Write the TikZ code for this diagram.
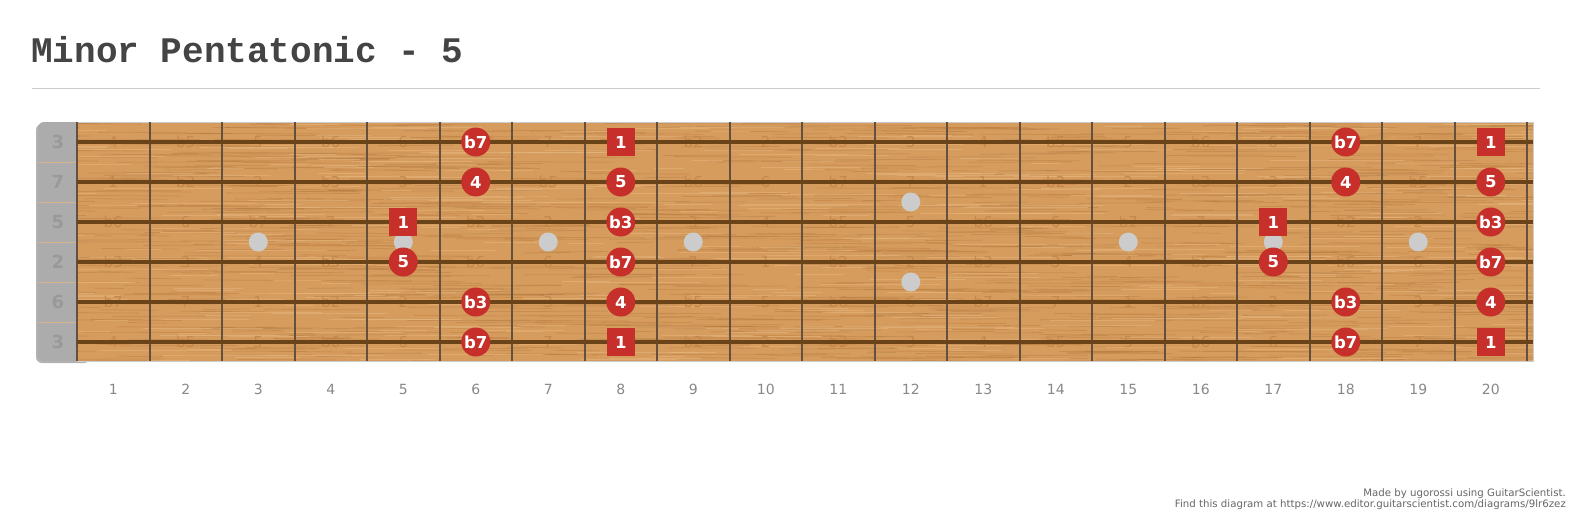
\documentclass[tikz,border=0pt]{standalone}
\usepackage{fontspec}
\setmainfont{DejaVu Sans}
\newfontfamily\mono{Liberation Mono}
\usetikzlibrary{positioning}
\definecolor{cmadera}{HTML}{D69C5E}
\definecolor{cvetaosc}{HTML}{BF8142}
\definecolor{cvetaclr}{HTML}{E6B780}
\definecolor{ccuerda}{HTML}{6B4318}
\definecolor{ctraste}{HTML}{64503E}
\definecolor{croja}{HTML}{C62F2A}
\definecolor{cceja}{HTML}{ACACAC}
\definecolor{cpunto}{HTML}{CCCCCC}
\definecolor{cgris}{HTML}{444444}
\definecolor{cnum}{HTML}{888888}
\definecolor{clinea}{HTML}{CCCCCC}
\newcommand\intervalo[1]{\ifcase#1 1\or b2\or 2\or b3\or 3\or 4\or b5\or 5\or b6\or 6\or b7\or 7\fi}
\tikzset{
  nota/.style={circle, fill=croja, minimum size=29pt, inner sep=0pt, text=white,
               font=\bfseries\fontsize{16.5}{16.5}\selectfont},
  raiz/.style={rectangle, fill=croja, minimum size=28pt, inner sep=0pt, text=white,
               font=\bfseries\fontsize{16.5}{16.5}\selectfont},
  fondo/.style={text=cvetaosc!75!cmadera, font=\fontsize{15}{15}\selectfont, inner sep=0pt},
  vacia/.style={text=black!40, font=\bfseries\fontsize{18}{18}\selectfont, inner sep=0pt},
  numtraste/.style={text=cnum, font=\fontsize{14}{14}\selectfont, inner sep=0pt},
  cuerda/.style={draw=ccuerda, line width=3.5pt},
  traste/.style={draw=ctraste, line width=2pt},
  punto/.style={circle, fill=cpunto, minimum size=19pt, inner sep=0pt},
  veta/.style={line width=0.8pt, opacity=0.55},
  pie/.style={anchor=base east, inner sep=0pt, text=black!60, font=\fontsize{10.2}{10.2}\selectfont},
}

\begin{document}
\begin{tikzpicture}[x=1pt, y=-1pt]
  \useasboundingbox[fill=white] (0,0) rectangle (1573,519);

  \node[anchor=base west, inner sep=0pt, text=cgris, font=\mono\bfseries\fontsize{36}{36}\selectfont]
    (titulo) at (31,63) {Minor Pentatonic - 5};
  \draw[clinea, line width=1pt] (32,88) -- (1540,88);

  % cejuela y diapason
  \fill[black!30, rounded corners=6pt] (36,124) rectangle (90,363);
  \fill[cceja, rounded corners=6pt] (38,122) rectangle (90,361);
  \fill[cmadera] (77,122) rectangle (1533,361);
  \begin{scope}
    \clip (77,122) rectangle (1533,361);
    \pgfmathsetseed{17}
    \foreach \i in {1,...,650}{
      \pgfmathsetmacro\gx{20+rnd*1520}
      \pgfmathsetmacro\gy{122+rnd*240}
      \pgfmathsetmacro\gl{25+rnd*110}
      \draw[veta, cvetaosc] (\gx,\gy) -- ++(\gl,0.6);
    }
    \foreach \i in {1,...,450}{
      \pgfmathsetmacro\gx{20+rnd*1520}
      \pgfmathsetmacro\gy{122+rnd*240}
      \pgfmathsetmacro\gl{25+rnd*110}
      \draw[veta, cvetaosc!80!black, opacity=0.25] (\gx,\gy) -- ++(\gl,-0.5);
    }
    \foreach \i in {1,...,450}{
      \pgfmathsetmacro\gx{20+rnd*1520}
      \pgfmathsetmacro\gy{122+rnd*240}
      \pgfmathsetmacro\gl{25+rnd*110}
      \draw[veta, cvetaclr] (\gx,\gy) -- ++(\gl,0);
    }
  \end{scope}
  \draw[black!20, line width=0.8pt] (77,122) -- (1533,122) -- (1533,361) -- (77,361);
  \foreach \y in {162,202,242,282,322}
    \draw[cvetaclr!70!cceja, line width=0.6pt] (38,\y) -- (77,\y);

  % intervalos de fondo
  \foreach \s/\o in {1/4,2/11,3/7,4/2,5/9,6/4}{
    \foreach \f in {1,...,20}{
      \pgfmathtruncatemacro\k{mod(\o+\f,12)}
      \node[fondo] (iv-\s-\f) at ({77+72.5*(\f-0.5)},{102+40*\s}) {\intervalo{\k}};
    }
  }

  % trastes y cuerdas
  \foreach \f in {0,...,20}
    \draw[traste] ({77+72.5*\f},122) -- ({77+72.5*\f},361);
  \foreach \s in {1,...,6}
    \draw[cuerda] (77,{102+40*\s}) -- (1533,{102+40*\s});

  % cuerdas al aire
  \foreach \s/\o in {1/3,2/7,3/5,4/2,5/6,6/3}
    \node[vacia] (aire-\s) at (58,{102+40*\s}) {\o};

  % marcas
  \foreach \f in {3,5,7,9,15,17,19}
    \node[punto] (p-\f) at ({77+72.5*(\f-0.5)},242) {};
  \node[punto] (p-12a) at ({77+72.5*11.5},202) {};
  \node[punto] (p-12b) at ({77+72.5*11.5},282) {};

  % notas de la escala
  \foreach \s/\f/\t in {1/6/b7, 2/6/4, 5/6/b3, 6/6/b7, 2/8/5, 3/8/b3, 4/8/b7, 5/8/4, 4/5/5,
                        1/18/b7, 2/18/4, 5/18/b3, 6/18/b7, 2/20/5, 3/20/b3, 4/20/b7, 5/20/4, 4/17/5}
    \node[nota] (n-\s-\f) at ({77+72.5*(\f-0.5)},{102+40*\s}) {\t};
  \foreach \s/\f in {1/8, 6/8, 3/5, 3/17, 1/20, 6/20}
    \node[raiz] (n-\s-\f) at ({77+72.5*(\f-0.5)},{102+40*\s}) {1};

  % numeros de traste
  \foreach \f in {1,...,20}
    \node[numtraste] (t-\f) at ({77+72.5*(\f-0.5)},389) {\f};

  \node[pie] (firma) at (1566,496) {Made by ugorossi using GuitarScientist.};
  \node[pie] (enlace) at (1566,507) {Find this diagram at https://www.editor.guitarscientist.com/diagrams/9lr6zez};
\end{tikzpicture}
\end{document}
